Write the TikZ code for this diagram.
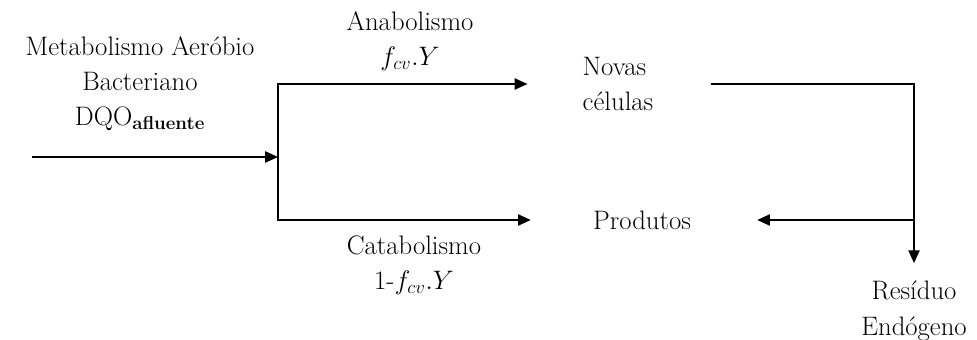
\RequirePackage{fix-cm}
\documentclass[tikz,border=0pt]{standalone}
\usepackage{tikz}
\usetikzlibrary{arrows.meta, positioning}

\begin{document}
\begin{tikzpicture}[
    on grid,
    every node/.style={font=\fontsize{19}{25}\selectfont},
    txt/.style={align=center, inner sep=0pt},
    arr/.style={-{Triangle[length=3.2mm, width=2.8mm]}, line width=1.2pt}
]
    \useasboundingbox (0,0) rectangle (24.425,-8.5);
    \node[txt] (src) at (3.5,-2.1) {Metabolismo Aeróbio\\Bacteriano\\DQO\textsubscript{\bfseries afluente}};
    \coordinate (in) at (0.8,-3.925);
    \coordinate[right=6.15cm of in] (split);
    \node[txt, above right=2.9cm and 3.3cm of split, anchor=center] (ana) {Anabolismo\\$f_{cv}.Y$};
    \node[txt, below right=2.7cm and 3.4cm of split, anchor=center] (cat) {Catabolismo\\1-$f_{cv}.Y$};
    \node[txt, align=left, right=11.95cm of src] (novas) {Novas\\células};
    \node[txt, below right=3.4cm and 12.55cm of src] (prod) {Produtos};
    \node[txt, below right=5.675cm and 19.35cm of src] (resid) {Resíduo\\Endógeno};
    \coordinate (branch) at (resid.north |- prod.east);

    \draw[arr] (in) -- (split);
    \draw[arr, shorten >=1.375cm] (split) |- (novas.west);
    \draw[arr, shorten >=1.55cm] (split) |- (prod.west);
    \draw[arr, shorten <=1.425cm, shorten >=0.45cm] (novas.east) -| (resid.north);
    \draw[arr, shorten >=1.65cm] (branch) -- (prod.east);
\end{tikzpicture}
\end{document}
